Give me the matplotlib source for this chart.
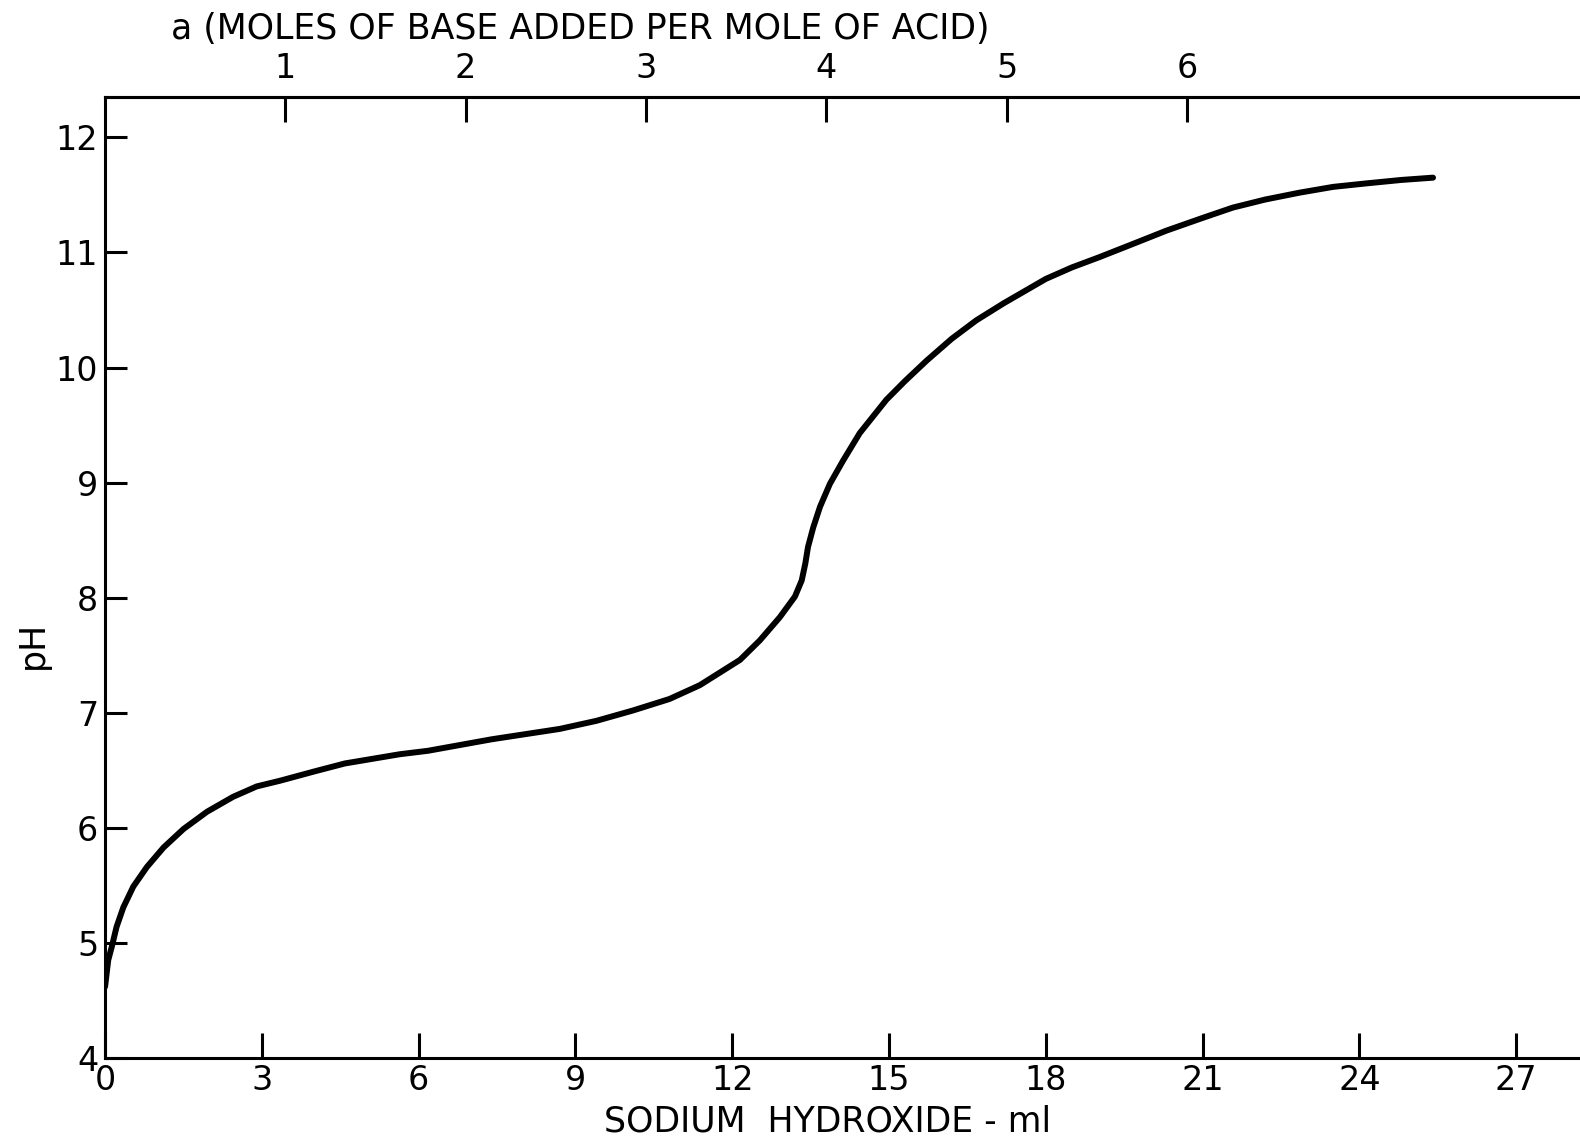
import matplotlib
matplotlib.use("Agg")
import matplotlib.pyplot as plt

plt.rcParams['font.family'] = ['DejaVu Sans']

# titration of the acid with NaOH
naoh_ml = [0.0, 0.06, 0.13, 0.22, 0.35, 0.54, 0.80, 1.12, 1.50, 1.95, 2.45,
           2.90, 3.35, 4.0, 4.59, 5.64, 6.18, 7.4, 8.7, 9.4, 10.1, 10.8,
           11.38, 12.15, 12.53, 12.91, 13.20, 13.33, 13.40, 13.45, 13.55,
           13.68, 13.87, 14.12, 14.44, 14.95, 15.3, 15.72, 16.2, 16.67, 17.2,
           18.0, 18.5, 19.03, 19.7, 20.31, 21.0, 21.58, 22.2, 22.86, 23.5,
           24.13, 24.8, 25.41]
ph = [4.62, 4.85, 4.97, 5.14, 5.31, 5.49, 5.66, 5.83, 5.99, 6.14, 6.27,
      6.36, 6.41, 6.49, 6.56, 6.64, 6.67, 6.77, 6.86, 6.93, 7.02, 7.12,
      7.24, 7.46, 7.63, 7.83, 8.01, 8.15, 8.30, 8.44, 8.61,
      8.79, 8.99, 9.19, 9.43, 9.72, 9.88, 10.06, 10.25, 10.41, 10.56,
      10.77, 10.87, 10.96, 11.08, 11.19, 11.30, 11.39, 11.46, 11.52, 11.57,
      11.60, 11.63, 11.65]

ML_PER_MOLE = 3.45  # ml of base per mole of acid
bottom_ticks = [0, 3, 6, 9, 12, 15, 18, 21, 24, 27]
top_ticks = [1, 2, 3, 4, 5, 6]
ph_ticks = [4, 5, 6, 7, 8, 9, 10, 11, 12]

fig = plt.figure(figsize=(15.8, 11.41), dpi=100)
ax = fig.add_axes([0.0665, 0.0727, 0.946, 0.8422])

ax.plot(naoh_ml, ph, color='black', lw=4.3,
        solid_capstyle='round', solid_joinstyle='round')

ax.set_xlim(0, 28.6)
ax.set_ylim(4, 12.35)
ax.set_xticks(bottom_ticks)
ax.set_yticks(ph_ticks)

for side in ['left', 'bottom', 'top']:
    ax.spines[side].set_linewidth(2.2)
ax.spines['right'].set_visible(False)

ax.tick_params(axis='x', direction='in', length=18, width=2.2, pad=4, labelsize=24)
ax.tick_params(axis='y', direction='in', length=16, width=2.2, pad=5, labelsize=24)

sec = ax.secondary_xaxis('top', functions=(lambda x: x / ML_PER_MOLE,
                                           lambda a: a * ML_PER_MOLE))
sec.set_xticks(top_ticks)
sec.spines['top'].set_linewidth(2.2)
sec.tick_params(direction='in', length=18, width=2.2, pad=9, labelsize=24)

fig.text(580 / 1580, 1 - 29 / 1141, 'a (MOLES OF BASE ADDED PER MOLE OF ACID)',
         ha='center', va='center', fontsize=25)
fig.text(828 / 1580, 1 - 1121 / 1141, 'SODIUM  HYDROXIDE - ml',
         ha='center', va='center', fontsize=25)
fig.text(33 / 1580, 1 - 645 / 1141, 'pH', rotation=90,
         ha='center', va='center', fontsize=25)

fig.savefig('out.png', dpi=100)
